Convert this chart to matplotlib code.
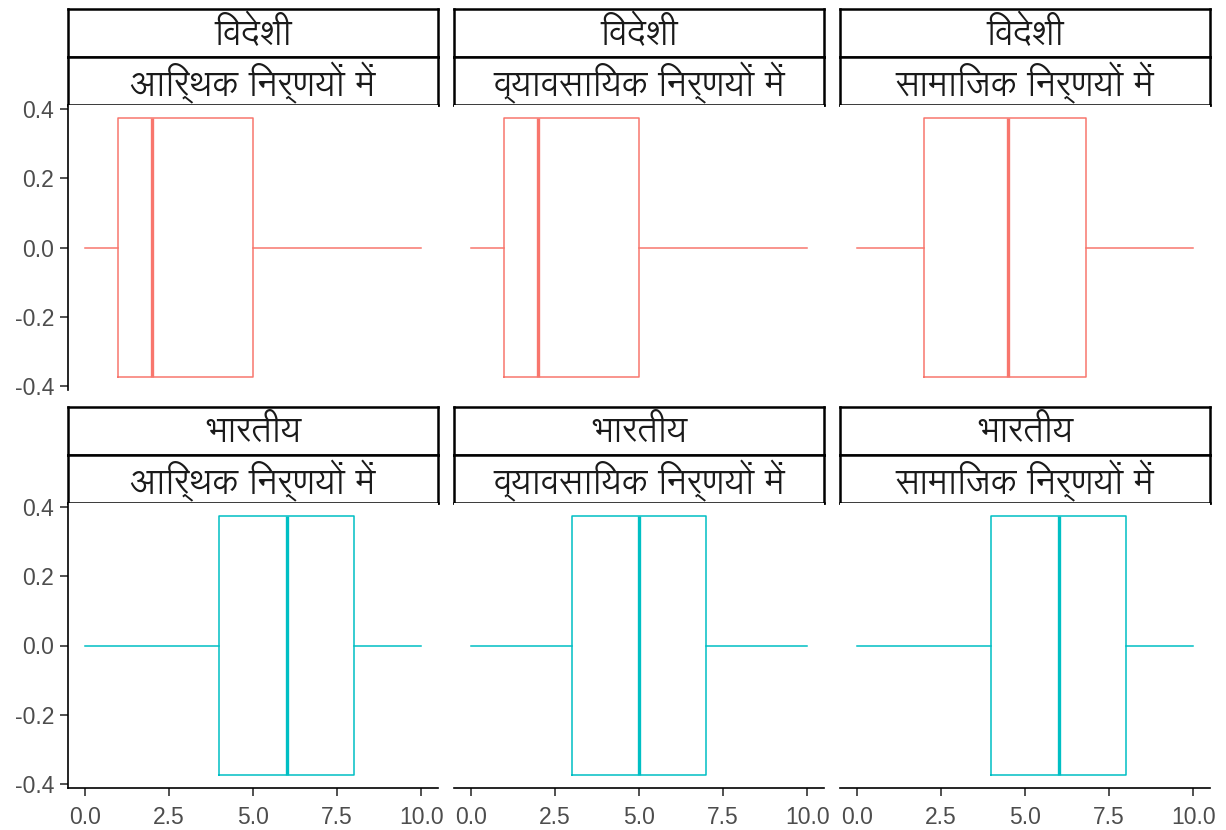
import matplotlib
matplotlib.use("Agg")
import matplotlib.pyplot as plt

plt.rcParams["axes.unicode_minus"] = False

# facet labels
origins = ["विदेशी", "भारतीय"]
decisions = ["आर्थिक निर्णयों में", "व्यावसायिक निर्णयों में", "सामाजिक निर्णयों में"]

# five-number summaries per origin, one value per decision type
whisker_low = {"विदेशी": [0, 0, 0], "भारतीय": [0, 0, 0]}
lower_hinge = {"विदेशी": [1, 1, 2], "भारतीय": [4, 3, 4]}
medians = {"विदेशी": [2, 2, 4.5], "भारतीय": [6, 5, 6]}
upper_hinge = {"विदेशी": [5, 5, 6.8], "भारतीय": [8, 7, 8]}
whisker_high = {"विदेशी": [10, 10, 10], "भारतीय": [10, 10, 10]}

colors = {"विदेशी": "#F8766D", "भारतीय": "#00BFC4"}

x_ticks = [0, 2.5, 5, 7.5, 10]
y_ticks = [-0.4, -0.2, 0.0, 0.2, 0.4]

DEV_FONT = ["Lohit Devanagari", "Noto Sans Devanagari", "DejaVu Sans"]
TICK_FONT = ["Liberation Sans", "DejaVu Sans"]

W, H = 1226, 830


def visual_order(text):
    """matplotlib does no Indic shaping, so move the i-matra in front of its consonant cluster."""
    out = []
    for ch in text:
        if ch == "\u093f" and out:
            i = len(out) - 1
            while i >= 2 and out[i - 1] == "\u094d":
                i -= 2
            out.insert(i, ch)
        else:
            out.append(ch)
    return "".join(out)


def rect(x0, y0, x1, y1):
    return [x0 / W, 1 - y1 / H, (x1 - x0) / W, (y1 - y0) / H]


fig = plt.figure(figsize=(W / 100, H / 100), dpi=100, facecolor="white")

col_left = [68, 454, 840]
panel_w = 370
strip_h = 48
row_top = [9, 407]
panel_h = 285

for r, origin in enumerate(origins):
    for c, decision in enumerate(decisions):
        x0 = col_left[c]
        y0 = row_top[r]
        # two stacked strips: origin on top, decision type below
        for k, label in enumerate([origin, decision]):
            sax = fig.add_axes(rect(x0, y0 + k * strip_h, x0 + panel_w, y0 + (k + 1) * strip_h))
            sax.set_xticks([])
            sax.set_yticks([])
            for sp in sax.spines.values():
                sp.set_linewidth(1.8)
                sp.set_color("black")
            sax.text(0.5, 0.45, visual_order(label), ha="center", va="center",
                     fontsize=25, color="#1A1A1A", family=DEV_FONT,
                     transform=sax.transAxes)

        ptop = y0 + 2 * strip_h
        ax = fig.add_axes(rect(x0, ptop, x0 + panel_w, ptop + panel_h))
        col = colors[origin]
        stats = [{
            "whislo": whisker_low[origin][c],
            "q1": lower_hinge[origin][c],
            "med": medians[origin][c],
            "q3": upper_hinge[origin][c],
            "whishi": whisker_high[origin][c],
            "fliers": [],
        }]
        ax.bxp(stats, positions=[0], widths=0.75, orientation="horizontal",
               showcaps=False, showfliers=False, manage_ticks=False,
               boxprops=dict(color=col, linewidth=1.1),
               whiskerprops=dict(color=col, linewidth=1.1),
               medianprops=dict(color=col, linewidth=2.4))

        ax.set_xlim(-0.5, 10.5)
        ax.set_ylim(-0.4125, 0.4125)
        ax.spines["top"].set_visible(False)
        ax.spines["right"].set_visible(False)
        ax.spines["left"].set_linewidth(1.2)
        ax.spines["bottom"].set_linewidth(1.2)
        ax.tick_params(colors="#333333", labelcolor="#4D4D4D", length=6, width=1.2,
                       labelsize=16.5)
        ax.tick_params(axis="x", pad=7)
        ax.tick_params(axis="y", pad=4)

        if c == 0:
            ax.set_yticks(y_ticks)
            ax.set_yticklabels([f"{v:.1f}" for v in y_ticks], family=TICK_FONT)
        else:
            ax.spines["left"].set_visible(False)
            ax.set_yticks([])

        if r == 1:
            ax.set_xticks(x_ticks)
            ax.set_xticklabels([f"{v:.1f}" for v in x_ticks], family=TICK_FONT)
        else:
            ax.spines["bottom"].set_visible(False)
            ax.set_xticks([])

fig.savefig("out.png", dpi=100, facecolor="white")
